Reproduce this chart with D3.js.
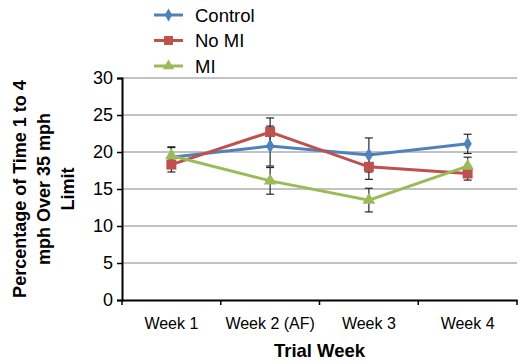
<!DOCTYPE html>
<html><head><meta charset="utf-8">
<script src="https://cdn.jsdelivr.net/npm/d3@7"></script>
<style>body{margin:0;background:#fff}svg{display:block}</style>
</head><body><svg id="c" width="520" height="364"></svg>
<script>
const categories = ["Week 1", "Week 2 (AF)", "Week 3", "Week 4"];
const seriesNames = ["Control", "No MI", "MI"];
const controlValues = [19.3, 20.8, 19.6, 21.1];
const noMIValues = [18.3, 22.7, 18.0, 17.1];
const miValues = [19.5, 16.1, 13.5, 18.1];
const controlErr = [1.3, 2.7, 2.3, 1.3];
const noMIErr = [1.0, 1.9, 1.7, 0.9];
const miErr = [1.2, 1.8, 1.6, 1.2];
const yTicks = [0, 5, 10, 15, 20, 25, 30];
const colors = ["#4F81BD", "#C0504D", "#9BBB59"];
const shapes = [d3.symbolDiamond, d3.symbolSquare, d3.symbolTriangle];

const series = [
  {name: seriesNames[0], values: controlValues, err: controlErr, color: colors[0], shape: shapes[0], size: 60},
  {name: seriesNames[1], values: noMIValues, err: noMIErr, color: colors[1], shape: shapes[1], size: 100},
  {name: seriesNames[2], values: miValues, err: miErr, color: colors[2], shape: shapes[2], size: 70}
];

const svg = d3.select("#c");
const font = "'Liberation Sans', Arial, sans-serif";
const L = 122, R = 517, T = 78, B = 300;
const x = d3.scaleBand().domain(categories).range([L, R]);
const y = d3.scaleLinear().domain([0, 30]).range([B, T]);

// gridlines
svg.append("g").selectAll("line").data(yTicks.slice(1)).join("line")
  .attr("x1", L).attr("x2", R).attr("y1", d => y(d)).attr("y2", d => y(d))
  .attr("stroke", "#868686").attr("stroke-width", 1);

// y axis
const ya = svg.append("g").attr("transform", `translate(${L},0)`)
  .call(d3.axisLeft(y).tickValues(yTicks).tickSize(5).tickPadding(4));
ya.selectAll("text").attr("font-family", font).attr("font-size", 18).attr("fill", "#000");
ya.select(".domain").attr("stroke", "#000").attr("stroke-width", 2);
ya.selectAll(".tick line").attr("stroke", "#000").attr("stroke-width", 1.5);

// x axis
const xa = svg.append("g").attr("transform", `translate(0,${B})`)
  .call(d3.axisBottom(x).tickSize(0).tickPadding(18));
xa.select(".domain").attr("stroke", "#000").attr("stroke-width", 2);
xa.selectAll("text").attr("font-family", font).attr("font-size", 16).attr("fill", "#000");
const bounds = categories.map(c => x(c)).concat([R]);
svg.append("g").selectAll("line").data(bounds).join("line")
  .attr("x1", d => d).attr("x2", d => d).attr("y1", B).attr("y2", B + 5)
  .attr("stroke", "#000").attr("stroke-width", 1.5);

const cx = c => x(c) + x.bandwidth() / 2;

// lines
series.forEach(s => {
  const line = d3.line().x((d, i) => cx(categories[i])).y(d => y(d));
  svg.append("path").datum(s.values).attr("d", line)
    .attr("fill", "none").attr("stroke", s.color).attr("stroke-width", 3);
});

// error bars
series.forEach(s => {
  const g = svg.append("g").attr("stroke", "#262626").attr("stroke-width", 1.2);
  s.values.forEach((v, i) => {
    const px = cx(categories[i]);
    const hi = y(v + s.err[i]), lo = y(v - s.err[i]);
    g.append("line").attr("x1", px).attr("x2", px).attr("y1", hi).attr("y2", lo);
    g.append("line").attr("x1", px - 4).attr("x2", px + 4).attr("y1", hi).attr("y2", hi);
    g.append("line").attr("x1", px - 4).attr("x2", px + 4).attr("y1", lo).attr("y2", lo);
  });
});

// markers
series.forEach(s => {
  svg.append("g").selectAll("path").data(s.values).join("path")
    .attr("transform", (d, i) => `translate(${cx(categories[i])},${y(d)})`)
    .attr("d", d3.symbol().type(s.shape).size(s.size))
    .attr("fill", s.color);
});

// legend
series.forEach((s, i) => {
  const ly = 15 + i * 25.5;
  svg.append("line").attr("x1", 154).attr("x2", 183).attr("y1", ly).attr("y2", ly)
    .attr("stroke", s.color).attr("stroke-width", 3);
  svg.append("path").attr("transform", `translate(168.5,${ly})`)
    .attr("d", d3.symbol().type(s.shape).size(s.size * 0.8)).attr("fill", s.color);
  svg.append("text").attr("x", 195).attr("y", ly + 6.5).text(s.name)
    .attr("font-family", font).attr("font-size", 18.5).attr("fill", "#000");
});

// axis titles
svg.append("text").attr("x", (L + R) / 2).attr("y", 357).attr("text-anchor", "middle")
  .attr("font-family", font).attr("font-size", 18.5).attr("font-weight", "bold").text("Trial Week");
const yt = svg.append("text").attr("transform", `translate(0,${(T + B) / 2}) rotate(-90)`)
  .attr("text-anchor", "middle").attr("font-family", font).attr("font-size", 18).attr("font-weight", "bold");
["Percentage of Time 1 to 4", "mph Over 35 mph", "Limit"].forEach((t, i) => {
  yt.append("tspan").attr("x", 0).attr("y", 26 + i * 24).text(t);
});
</script></body></html>
